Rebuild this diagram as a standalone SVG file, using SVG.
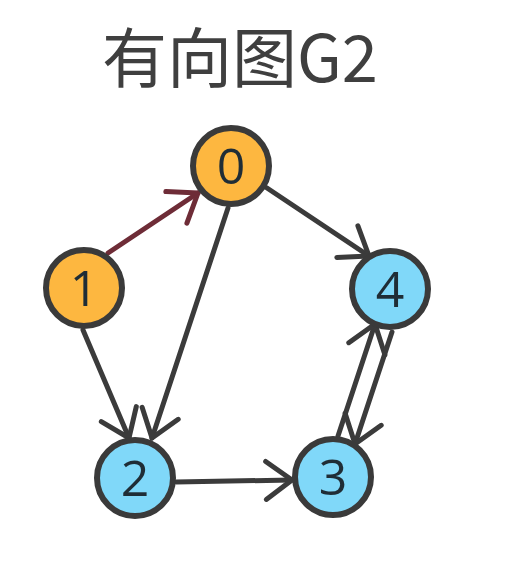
<svg xmlns="http://www.w3.org/2000/svg" width="530" height="584" viewBox="0 0 530 584">
<style>
.title{font-family:"Noto Sans CJK SC","Noto Sans",sans-serif;font-size:65px;font-weight:400;fill:#3f3f3f;}
.edge{fill:none;stroke:#3b3b3b;stroke-width:5;stroke-linecap:round;}
.red{stroke:#6e2c37;}
.node{stroke:#3a3a3a;stroke-width:6;}
.orange{fill:#FDB740;}
.blue{fill:#80D8F9;}
.lbl{font-family:"Open Sans","Noto Sans",sans-serif;font-size:50px;fill:#1f2d36;text-anchor:middle;}
</style>
<defs>
<marker id="ah" markerUnits="userSpaceOnUse" viewBox="-30 -24 34 48" refX="0" refY="0" markerWidth="34" markerHeight="48" orient="auto" overflow="visible">
<path d="M-26,-19 L0,0 L-26,19" fill="none" stroke="#3b3b3b" stroke-width="5" stroke-linecap="round" stroke-linejoin="round"/>
</marker>
<marker id="ahr" markerUnits="userSpaceOnUse" viewBox="-30 -24 34 48" refX="0" refY="0" markerWidth="34" markerHeight="48" orient="auto" overflow="visible">
<path d="M-26,-19 L0,0 L-26,19" fill="none" stroke="#6e2c37" stroke-width="5" stroke-linecap="round" stroke-linejoin="round"/>
</marker>
</defs>
<rect width="530" height="584" fill="#ffffff"/>
<text class="title" x="102" y="82">有向图G2</text>
<g id="edges">
<line class="edge red" x1="108" y1="253" x2="198" y2="193" marker-end="url(#ahr)"/>
<line class="edge" x1="267" y1="188" x2="369" y2="256" marker-end="url(#ah)"/>
<line class="edge" x1="228" y1="208" x2="152" y2="438" marker-end="url(#ah)"/>
<line class="edge" x1="83" y1="330" x2="129" y2="438" marker-end="url(#ah)"/>
<line class="edge" x1="176" y1="482" x2="292" y2="480" marker-end="url(#ah)"/>
<line class="edge" x1="338" y1="436" x2="375" y2="324" marker-end="url(#ah)"/>
<line class="edge" x1="392" y1="332" x2="355" y2="444" marker-end="url(#ah)"/>
</g>
<g id="node0"><circle class="node orange" cx="231" cy="166" r="38"/><text class="lbl" x="231" y="184">0</text></g>
<g id="node1"><circle class="node orange" cx="84" cy="288" r="38"/><text class="lbl" x="84" y="306">1</text></g>
<g id="node4"><circle class="node blue" cx="390" cy="289" r="38"/><text class="lbl" x="390" y="307">4</text></g>
<g id="node2"><circle class="node blue" cx="135" cy="478" r="38"/><text class="lbl" x="135" y="496">2</text></g>
<g id="node3"><circle class="node blue" cx="333" cy="477" r="38"/><text class="lbl" x="333" y="495">3</text></g>
</svg>
